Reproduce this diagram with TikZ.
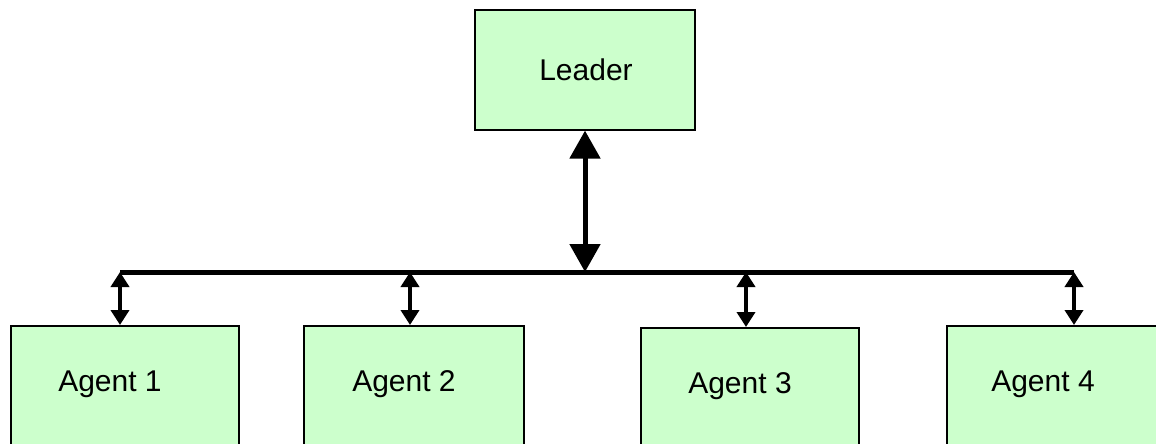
\documentclass[tikz,border=0pt]{standalone}
\usepackage{fontspec}
\setmainfont{Liberation Sans}
\usetikzlibrary{arrows.meta}
\definecolor{boxgreen}{HTML}{CCFFCC}
\tikzset{
  box/.style={draw=black, line width=1.6pt, fill=boxgreen, inner sep=0pt, anchor=north west},
  lbl/.style={inner sep=0pt, font=\fontsize{30}{36}\selectfont},
  bus/.style={line width=5pt},
  bigarrow/.style={line width=5pt, {Triangle[width=30pt,length=28pt]}-{Triangle[width=30pt,length=28pt]}},
  smallarrow/.style={line width=4pt, {Triangle[width=18pt,length=15pt]}-{Triangle[width=18pt,length=15pt]}}
}
\begin{document}
\begin{tikzpicture}[x=1pt,y=-1pt]
\useasboundingbox (0,0) rectangle (1156,444);
\clip (0,0) rectangle (1156,444);
% boxes
\node[box, minimum width=220pt, minimum height=120pt] (L) at (474,9) {};
\node[box, minimum width=228pt, minimum height=140pt] (a1) at (10,325) {};
\node[box, minimum width=220pt, minimum height=140pt] (a2) at (303,325) {};
\node[box, minimum width=218pt, minimum height=140pt] (a3) at (640,327) {};
\node[box, minimum width=230pt, minimum height=140pt] (a4) at (946,325) {};
% labels
\node[lbl] (tL) at (586,70) {Leader};
\node[lbl] (t1) at (110,384) {Agent 1};
\node[lbl] (t2) at (404,384) {Agent 2};
\node[lbl] (t3) at (740,386) {Agent 3};
\node[lbl] (t4) at (1043,384) {Agent 4};
% bus
\coordinate (bl) at (120,272);
\coordinate (br) at (1074,272);
\coordinate (c1) at (120,272);
\coordinate (c2) at (410,272);
\coordinate (c3) at (746,272);
\coordinate (c4) at (1074,272);
\coordinate (cL) at (585,272);
\draw[bus] (bl) -- (br);
% arrows
\draw[bigarrow] (cL |- L.south) -- (cL);
\draw[smallarrow] (c1) -- (c1 |- a1.north);
\draw[smallarrow] (c2) -- (c2 |- a2.north);
\draw[smallarrow] (c3) -- (c3 |- a3.north);
\draw[smallarrow] (c4) -- (c4 |- a4.north);
\end{tikzpicture}
\end{document}
